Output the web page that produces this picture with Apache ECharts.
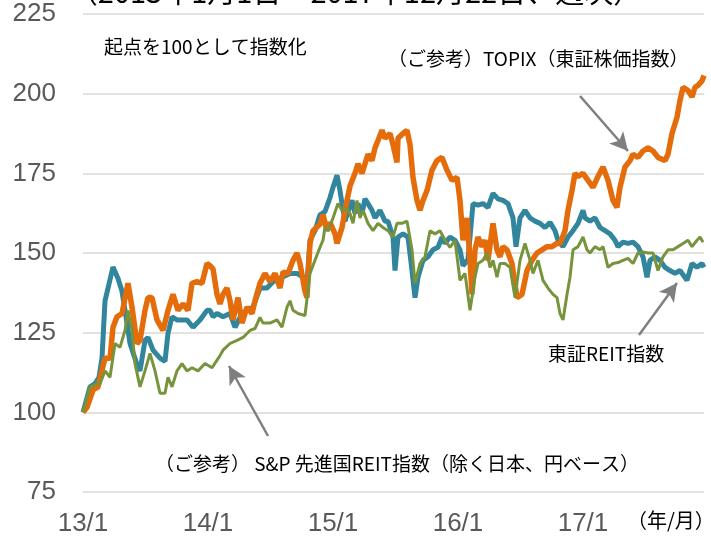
<!DOCTYPE html>
<html>
<head>
<meta charset="utf-8">
<script src="https://cdn.jsdelivr.net/npm/echarts@6/dist/echarts.min.js"></script>
<style>
  html, body { margin: 0; padding: 0; background: #fff; }
  #main { width: 711px; height: 536px; }
</style>
</head>
<body>
<div id="main"></div>
<script>
// x = years elapsed since 2013/1/1, y = index (start = 100)
var yearTicks = ['13/1', '14/1', '15/1', '16/1', '17/1'];
var yTicks = [75, 100, 125, 150, 175, 200, 225];

var topix = [[0,100],[.032,101.6],[.08,107],[.12,108],[.176,117],[.216,117],[.24,126.7],[.272,130],[.312,131],[.36,140.5],[.392,133],[.432,121.6],[.456,122.6],[.496,132],[.52,136],[.552,136],[.592,129],[.64,125.7],[.68,132],[.72,137],[.76,132],[.8,134],[.84,132],[.872,140.5],[.912,141],[.952,140.5],[.992,146.7],[1.016,146],[1.04,145],[1.072,137],[1.096,134],[1.12,137],[1.152,139],[1.176,135],[1.2,129],[1.24,136],[1.272,128],[1.312,133],[1.352,131],[1.376,135],[1.416,140.5],[1.456,143.6],[1.496,141],[1.536,143.6],[1.576,139],[1.6,144],[1.64,143.6],[1.68,147.7],[1.712,150],[1.736,146.7],[1.776,138],[1.792,136],[1.816,153],[1.84,157],[1.896,159],[1.92,162],[1.952,157],[1.976,159.6],[2.016,156],[2.032,153],[2.072,158],[2.112,166.5],[2.136,171],[2.176,175],[2.2,178],[2.232,175],[2.256,178],[2.28,181],[2.312,179],[2.336,183],[2.36,185.3],[2.392,188.5],[2.416,186],[2.456,187.5],[2.48,184],[2.512,178.4],[2.52,186],[2.56,187.5],[2.592,188.5],[2.616,184],[2.64,173.7],[2.672,166.5],[2.696,163.4],[2.72,166.5],[2.752,169.6],[2.792,176],[2.832,179],[2.872,180],[2.912,176],[2.952,172.8],[2.992,173.7],[3.016,166.5],[3.04,154],[3.072,161],[3.096,147.7],[3.112,137],[3.136,151],[3.16,155],[3.192,152],[3.216,154],[3.24,147.7],[3.28,159.3],[3.312,151],[3.336,148.8],[3.36,152],[3.392,151],[3.432,146.7],[3.472,136],[3.512,137],[3.552,144.5],[3.592,147.7],[3.632,150],[3.672,151],[3.712,152],[3.752,152],[3.792,153],[3.816,153],[3.856,157],[3.88,163.4],[3.912,169.6],[3.936,175],[3.96,174],[4.0,175],[4.04,172.8],[4.08,170.6],[4.12,174],[4.16,177],[4.2,172.8],[4.24,166.5],[4.272,164.3],[4.296,170.6],[4.336,177],[4.376,179],[4.4,181],[4.44,180],[4.48,182],[4.52,183],[4.56,182],[4.6,180],[4.656,179],[4.68,181],[4.712,187.5],[4.752,192.6],[4.776,197.9],[4.8,202],[4.84,201],[4.872,199],[4.896,202],[4.92,202.6],[4.952,204],[4.968,205.7]];

var jreit = [[0,100],[.056,108],[.096,109],[.128,111],[.152,117],[.176,135],[.24,145.6],[.28,142],[.312,138],[.352,128],[.376,121.6],[.432,115],[.456,113],[.496,122.6],[.52,123.5],[.56,119.5],[.616,117],[.656,116],[.68,124.8],[.712,130],[.752,129],[.832,129],[.88,126.7],[.936,129],[.992,132],[1.016,132],[1.04,130],[1.072,131],[1.12,130],[1.176,131],[1.216,126.7],[1.272,131],[1.312,132],[1.36,133],[1.416,139],[1.472,139],[1.52,141],[1.592,142.4],[1.656,143.6],[1.712,143.6],[1.76,142.4],[1.792,140.5],[1.816,154],[1.856,157],[1.896,162],[1.936,163],[1.976,167.4],[2.0,170.6],[2.032,174.4],[2.056,169.6],[2.072,165.5],[2.096,160],[2.12,163],[2.152,166.5],[2.176,162.4],[2.2,165.5],[2.232,162.4],[2.256,167],[2.28,165.5],[2.312,163.4],[2.336,161],[2.376,163.4],[2.416,160],[2.44,160],[2.48,155],[2.496,144.5],[2.52,155],[2.56,156],[2.6,155],[2.632,144.5],[2.656,136],[2.68,142.4],[2.72,147.7],[2.76,148.8],[2.8,151],[2.84,151.8],[2.872,155],[2.896,153],[2.936,155],[2.976,154],[3.016,151],[3.04,146],[3.08,148],[3.12,165.5],[3.16,165],[3.2,165.5],[3.24,164.3],[3.28,168.7],[3.32,167],[3.36,166.5],[3.4,165.5],[3.44,161],[3.464,152],[3.496,161],[3.536,163.4],[3.576,161],[3.616,160],[3.656,159.3],[3.696,158],[3.736,159.6],[3.776,157],[3.8,154],[3.84,152],[3.88,155],[3.92,157],[3.96,159.3],[4.0,163.4],[4.016,161],[4.056,160],[4.096,161],[4.136,158],[4.176,157],[4.216,156],[4.256,154],[4.28,152],[4.32,153.4],[4.36,153],[4.4,153.4],[4.44,152],[4.48,148.8],[4.512,142.4],[4.536,147.7],[4.576,148.8],[4.616,147.7],[4.656,145.5],[4.696,144.5],[4.736,143.6],[4.776,144.5],[4.832,141.4],[4.872,146.7],[4.912,145.5],[4.952,146.7],[4.968,145.5]];

var spReit = [[0,100],[.056,108],[.112,109],[.136,109],[.176,113],[.216,111],[.256,121.6],[.296,120.4],[.336,125.7],[.36,132],[.392,125.7],[.416,115.3],[.456,108],[.496,113],[.536,118.5],[.576,113],[.616,106],[.656,106],[.68,111],[.712,108],[.752,113],[.792,115.3],[.832,113],[.872,114],[.92,113],[.976,115.3],[1.032,114],[1.096,117.8],[1.12,119.5],[1.176,121.6],[1.232,122.6],[1.28,123.5],[1.336,125.7],[1.376,126.3],[1.416,129.8],[1.44,128],[1.496,128],[1.552,129],[1.592,126.7],[1.632,133],[1.656,135],[1.68,132],[1.72,131],[1.776,130.4],[1.816,143.6],[1.856,147.7],[1.896,151.8],[1.92,154],[1.936,158],[1.96,157],[2.0,161],[2.04,165.5],[2.072,163.4],[2.112,164],[2.136,162.4],[2.16,159.3],[2.192,166.5],[2.216,161],[2.24,163.4],[2.28,159.3],[2.32,157],[2.36,159.3],[2.4,158],[2.44,157],[2.48,155],[2.512,159.3],[2.552,159.3],[2.592,160],[2.632,151],[2.656,140.5],[2.696,146.7],[2.736,148.8],[2.776,157],[2.816,156],[2.856,157],[2.896,154],[2.936,151.8],[2.976,154],[3.016,141.4],[3.056,143.6],[3.096,132],[3.136,142.4],[3.16,146.7],[3.2,147.7],[3.232,150],[3.256,145.5],[3.28,147.7],[3.312,142.4],[3.336,146.7],[3.376,146.7],[3.416,145.5],[3.456,136],[3.496,147.7],[3.536,153],[3.576,147.7],[3.6,143.6],[3.64,147.7],[3.68,141.4],[3.72,139],[3.76,137],[3.792,136],[3.816,131],[3.84,129],[3.872,137],[3.896,142.4],[3.92,151],[3.96,152],[4.0,155],[4.032,151],[4.056,150],[4.096,152],[4.136,151],[4.16,152],[4.2,145.5],[4.24,146.7],[4.28,147],[4.32,147.7],[4.36,148.3],[4.4,146.7],[4.44,150],[4.48,150.3],[4.52,150],[4.56,150],[4.6,144.5],[4.64,148.8],[4.68,151],[4.72,151],[4.76,152],[4.8,153],[4.84,154],[4.872,152],[4.912,154],[4.936,155],[4.96,153.4]];

var chart = echarts.init(document.getElementById('main'));

var cjk = '"Noto Sans CJK JP", "Liberation Sans", sans-serif';
var numFont = '"Liberation Sans Narrow", "Liberation Sans", Arial, sans-serif';

function arrow(from, to) {
    return [{ x: from[0], y: from[1] }, { x: to[0], y: to[1] }];
}

var option = {
    animation: false,
    backgroundColor: '#ffffff',
    grid: {
        left: 83,
        right: 7,
        top: 14,
        bottom: 44,
        containLabel: false,
        outerBoundsMode: 'none'
    },
    xAxis: {
        type: 'value',
        min: 0,
        max: 4.968,
        interval: 1,
        axisLine: { show: false },
        axisTick: { show: false },
        splitLine: { show: false },
        axisLabel: {
            showMaxLabel: false,
            margin: 19,
            color: '#595959',
            fontSize: 26,
            fontFamily: numFont,
            formatter: function (v) { return yearTicks[Math.round(v)] || ''; }
        }
    },
    yAxis: {
        type: 'value',
        min: yTicks[0],
        max: yTicks[yTicks.length - 1],
        interval: 25,
        axisLine: { show: false },
        axisTick: { show: false },
        splitLine: { lineStyle: { color: '#d9d9d9', width: 1.5 } },
        axisLabel: {
            margin: 27,
            color: '#595959',
            fontSize: 26,
            fontFamily: numFont
        }
    },
    series: [
        {
            name: '東証REIT指数',
            type: 'line',
            data: jreit,
            showSymbol: false,
            lineStyle: { color: '#31859c', width: 5 },
            z: 2
        },
        {
            name: 'TOPIX',
            type: 'line',
            data: topix,
            showSymbol: false,
            lineStyle: { color: '#e46c0a', width: 5.5 },
            z: 3
        },
        {
            name: 'S&P 先進国REIT指数',
            type: 'line',
            data: spReit,
            showSymbol: false,
            lineStyle: { color: '#77933c', width: 3 },
            z: 4,
            markLine: {
                silent: true,
                symbol: ['none', 'arrow'],
                symbolSize: [14, 18],
                label: { show: false },
                lineStyle: { color: '#7f7f7f', width: 2.5, type: 'solid' },
                data: [
                    arrow([580, 96], [628, 151]),
                    arrow([639, 335], [677, 283]),
                    arrow([268, 436], [229, 366])
                ]
            }
        }
    ],
    graphic: [
        {
            type: 'text', left: 'center', top: -23,
            style: { text: '（2013年1月1日～2017年12月22日、週次）', font: '29px ' + cjk, fill: '#000' }
        },
        {
            type: 'text', left: 104, top: 37,
            style: { text: '起点を100として指数化', font: '19px ' + cjk, fill: '#000' }
        },
        {
            type: 'text', left: 388, top: 49,
            style: { text: '（ご参考）TOPIX（東証株価指数）', font: '19px ' + cjk, fill: '#000' }
        },
        {
            type: 'text', left: 548, top: 344,
            style: { text: '東証REIT指数', font: '19px ' + cjk, fill: '#000' }
        },
        {
            type: 'text', left: 155, top: 454,
            style: { text: '（ご参考） S&P 先進国REIT指数（除く日本、円ベース）', font: '19px ' + cjk, fill: '#000' }
        },
        {
            type: 'text', left: 627, top: 510,
            style: { text: '（年/月）', font: '20px ' + cjk, fill: '#000' }
        }
    ]
};

chart.setOption(option);
</script>
</body>
</html>
